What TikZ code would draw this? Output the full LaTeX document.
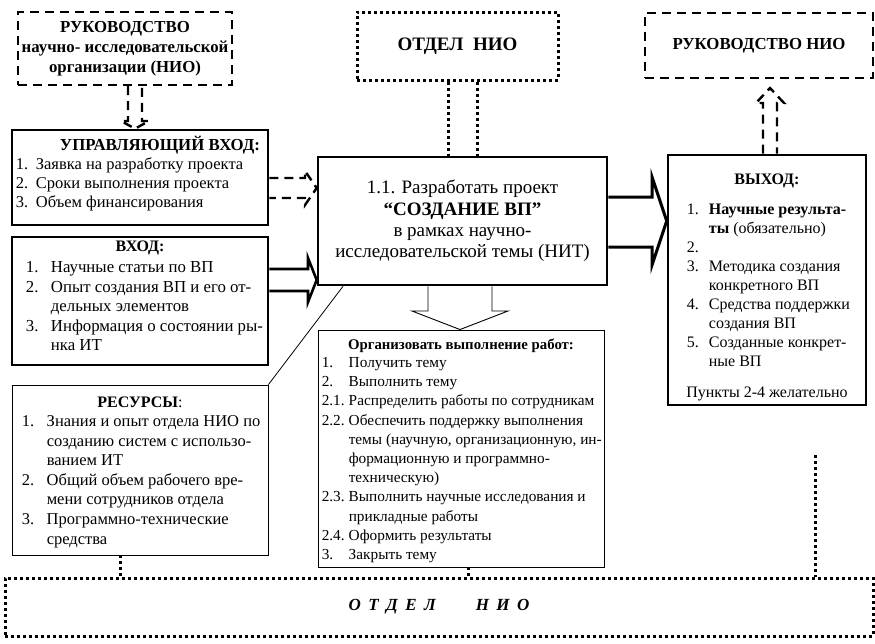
\documentclass[tikz,border=0pt]{standalone}
\usepackage{fontspec}
\setmainfont{Liberation Serif}
\usepackage{array}
\usetikzlibrary{positioning}

\tikzset{
  thickbox/.style={draw, line width=2.6pt, inner sep=0pt},
  thinbox/.style={draw, line width=0.9pt, inner sep=0pt},
  dashbox/.style={draw, line width=2.4pt, dash pattern=on 9pt off 6pt, inner sep=0pt},
  dotbox/.style={draw, line width=3pt, dash pattern=on 3pt off 3pt, inner sep=0pt},
  dashline/.style={line width=2.4pt, dash pattern=on 9pt off 6pt},
  dotline/.style={line width=3pt, dash pattern=on 3pt off 3pt},
  txt/.style={inner sep=0pt, font=\fontsize{16}{19}\selectfont},
  head/.style={inner sep=0pt, font=\fontsize{16}{19}\selectfont\bfseries},
}
\newcommand{\lst}[2]{\begin{tabular}[t]{@{}p{#1}@{}l@{}}#2\end{tabular}}

\begin{document}
\begin{tikzpicture}[x=1pt, y=-1pt]
  \useasboundingbox (0,0) rectangle (875,643);

  % top row
  \node[dashbox, minimum width=214pt, minimum height=73pt, align=center,
        font=\fontsize{16.8}{20}\selectfont\bfseries] (rukorg) at (125,48.5)
        {РУКОВОДСТВО\\научно- исследовательской\\организации (НИО)};
  \node[dotbox, minimum width=201pt, minimum height=68pt,
        font=\fontsize{19}{20}\selectfont\bfseries] (otdtop) at (457.5,46) {ОТДЕЛ\ \ НИО};
  \node[dashbox, minimum width=228pt, minimum height=65pt,
        font=\fontsize{16.8}{20}\selectfont\bfseries] (ruktop) at (759,45.5) {РУКОВОДСТВО НИО};

  % left column
  \node[thickbox, minimum width=256pt, minimum height=95pt] (upr) at (140,177.5) {};
  \node[head, font=\fontsize{16.8}{19}\selectfont\bfseries, below=22pt of upr.north,
        xshift=20pt, anchor=base] (uprhead) {УПРАВЛЯЮЩИЙ ВХОД:};
  \node[txt, font=\fontsize{16.5}{19}\selectfont, below right=41pt and 5pt of upr.north west,
        anchor=base west] (upritems) {\lst{20pt}{
    1. & Заявка на разработку проекта\\
    2. & Сроки выполнения проекта\\
    3. & Объем финансирования}};

  \node[thickbox, minimum width=256pt, minimum height=128pt] (vhod) at (140,301) {};
  \node[head, below=16pt of vhod.north, anchor=base] (vhodhead) {ВХОД:};
  \node[txt, font=\fontsize{16.8}{19.5}\selectfont, below right=37pt and 15pt of vhod.north west,
        anchor=base west] (vhoditems) {\lst{25pt}{
    1. & Научные статьи по ВП\\
    2. & Опыт создания ВП и его от-\\
       & дельных элементов\\
    3. & Информация о состоянии ры-\\
       & нка ИТ}};

  \node[thinbox, minimum width=256pt, minimum height=170pt] (res) at (140,470) {};
  \node[txt, below=23pt of res.north, anchor=base] (reshead) {\textbf{РЕСУРСЫ}:};
  \node[txt, font=\fontsize{16.5}{19.6}\selectfont, below right=42pt and 10pt of res.north west,
        anchor=base west] (resitems) {\lst{25pt}{
    1. & Знания и опыт отдела НИО по\\
       & созданию систем с использо-\\
       & ванием ИТ\\
    2. & Общий объем рабочего вре-\\
       & мени сотрудников отдела\\
    3. & Программно-технические\\
       & средства}};

  % middle
  \node[thickbox, minimum width=289pt, minimum height=128pt, align=center,
        font=\fontsize{19}{21.3}\selectfont] (task) at (462.5,221)
        {1.1. Разработать проект\\\textbf{“СОЗДАНИЕ ВП”}\\в рамках научно-\\исследовательской темы (НИТ)};

  \node[thinbox, minimum width=286pt, minimum height=237pt] (org) at (461,448.5) {};
  \node[head, font=\fontsize{14.8}{19}\selectfont\bfseries, below=20pt of org.north,
        anchor=base] (orghead) {Организовать выполнение работ:};
  \node[txt, font=\fontsize{15.3}{19.2}\selectfont, below right=38pt and 4pt of org.north west,
        anchor=base west] (orgitems) {\lst{27pt}{
    1.   & Получить тему\\
    2.   & Выполнить тему\\
    2.1. & Распределить работы по сотрудникам\\
    2.2. & Обеспечить поддержку выполнения\\
         & темы (научную, организационную, ин-\\
         & формационную и программно-\\
         & техническую)\\
    2.3. & Выполнить научные исследования и\\
         & прикладные работы\\
    2.4. & Оформить результаты\\
    3.   & Закрыть тему}};

  % right column
  \node[thickbox, minimum width=198pt, minimum height=250pt] (vyh) at (767,280) {};
  \node[head, below=31pt of vyh.north, anchor=base] (vyhhead) {ВЫХОД:};
  \node[txt, below right=61pt and 20pt of vyh.north west, anchor=base west] (vyhitems) {\lst{22pt}{
    1. & \textbf{Научные результа-}\\
       & \textbf{ты} (обязательно)\\
    2. & \\
    3. & Методика создания\\
       & конкретного ВП\\
    4. & Средства поддержки\\
       & создания ВП\\
    5. & Созданные конкрет-\\
       & ные ВП}};
  \node[txt, below=244pt of vyh.north, anchor=base] (vyhnote) {Пункты 2-4 желательно};

  % bottom bar
  \node[dotbox, minimum width=868pt, minimum height=58pt,
        font=\fontsize{17}{19}\selectfont\bfseries\itshape] (otdbot) at (439,607)
        {О\hspace{7.5pt}Т\hspace{7.5pt}Д\hspace{7.5pt}Е\hspace{7.5pt}Л\hspace{40pt}Н\hspace{7.5pt}И\hspace{7.5pt}О};

  \coordinate (uptip) at (770,88);
  \coordinate (dotend) at (815,455);

  % connectors
  \draw[dashline] (rukorg.south -| 128,0) -- (128,121) -- (121,121) -- (upr.north -| 135,0)
    -- (149,121) -- (142,121) -- (rukorg.south -| 142,0);
  \draw[dashline] (upr.east |- 0,178) -- (305,178) -- (305,171) -- (task.west |- 0,188)
    -- (305,205) -- (305,198) -- (upr.east |- 0,198);
  \draw[line width=2.6pt] (vhod.east |- 0,269) -- (308,269) -- (308,258) -- (task.west |- 0,280)
    -- (308,302) -- (308,291) -- (vhod.east |- 0,291);
  \draw[line width=3pt] (task.east |- 0,197) -- (652,197) -- (652,177) -- (vyh.west |- 0,221)
    -- (652,265) -- (652,247) -- (task.east |- 0,247);
  \draw[dashline] (vyh.north -| 763,0) -- (763,103) -- (756,103) -- (uptip)
    -- (784,103) -- (777,103) -- (vyh.north -| 777,0);
  \draw[dotline] (otdtop.south -| 448,0) -- (task.north -| 448,0);
  \draw[dotline] (otdtop.south -| 477,0) -- (task.north -| 477,0);
  \draw[line width=0.8pt] (res.north east) -- (task.south -| 343,0);
  \draw[line width=0.9pt] (task.south -| 428,0) -- (428,311) -- (412,311) -- (org.north -| 460,0)
    -- (508,311) -- (492,311) -- (task.south -| 492,0);
  \draw[dotline] (res.south -| 120,0) -- (otdbot.north -| 120,0);
  \draw[dotline] (org.south -| 468,0) -- (otdbot.north -| 468,0);
  \draw[dotline] (dotend) -- (otdbot.north -| dotend);
\end{tikzpicture}
\end{document}
